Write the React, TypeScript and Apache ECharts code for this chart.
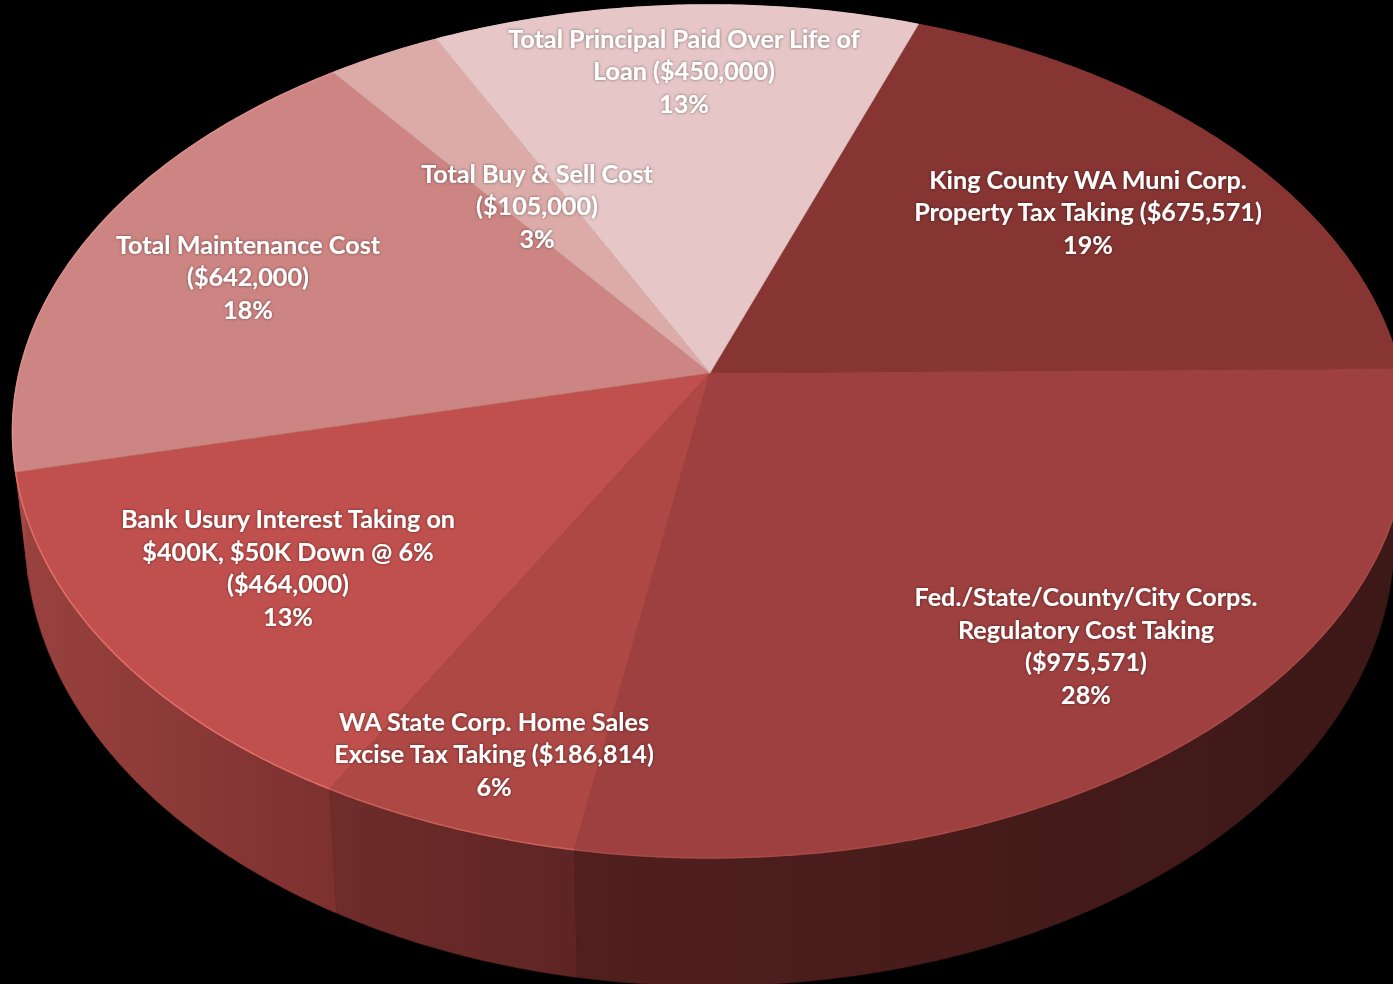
import React, { useEffect, useRef } from "react";
import * as echarts from "echarts";

const categories = [
  "King County WA Muni Corp. Property Tax Taking",
  "Fed./State/County/City Corps. Regulatory Cost Taking",
  "WA State Corp. Home Sales Excise Tax Taking",
  "Bank Usury Interest Taking",
  "Total Maintenance Cost",
  "Total Buy & Sell Cost",
  "Total Principal Paid Over Life of Loan",
];
const values = [675571, 975571, 186814, 464000, 642000, 105000, 450000];
const labelTexts = [
  "King County WA Muni Corp.\nProperty Tax Taking ($675,571)\n19%",
  "Fed./State/County/City Corps.\nRegulatory Cost Taking\n($975,571)\n28%",
  "WA State Corp. Home Sales\nExcise Tax Taking ($186,814)\n6%",
  "Bank Usury Interest Taking on\n$400K, $50K Down @ 6%\n($464,000)\n13%",
  "Total Maintenance Cost\n($642,000)\n18%",
  "Total Buy & Sell Cost\n($105,000)\n3%",
  "Total Principal Paid Over Life of\nLoan ($450,000)\n13%",
];

// styling
const topColors = ["#873533", "#9e403f", "#ad4845", "#c0504d", "#cd8583", "#dcaba8", "#e6c6c6"];
const rimColors = ["#873533", "#a84a48", "#c9605b", "#e2706a", "#dd8f8c", "#dcaba8", "#e6c6c6"];
const wallLeft = ["#3d1917", "#501f1e", "#6f2c2a", "#9a423f", "#a04a47", "#3d1917", "#3d1917"];
const wallRight = ["#3d1917", "#3c1817", "#5e2524", "#7c312f", "#9a423f", "#3d1917", "#3d1917"];
const labelCenters = [
  [1088, 211],
  [1086, 645],
  [494, 753],
  [288, 567],
  [248, 276],
  [537, 205],
  [684, 70],
];

// projection of the tilted disc
const START_DEG = 19.9;
const CX = 710;
const CY = 373;
const AX = 691;
const BY = 418.5;
const K = 0.137;
const ELL_CY = 431;
const ELL_RY = 427;
const ELL_RX = 698;
const LOW_CY = 536;
const LOW_RY = 450;
const LOW_RX = 685;

const total = values.reduce((a, b) => a + b, 0);

function project(deg: number): [number, number] {
  const r = (deg * Math.PI) / 180;
  const u = Math.sin(r);
  const v = -Math.cos(r);
  const w = 1 - K * v;
  return [CX + (AX * u) / w, CY + (BY * v) / w];
}
function projectLow(deg: number): [number, number] {
  const [x, y] = project(deg);
  return [CX + ((x - CX) * LOW_RX) / ELL_RX, LOW_CY + ((y - ELL_CY) * LOW_RY) / ELL_RY];
}
function sliceRange(index: number): [number, number] {
  let before = 0;
  for (let i = 0; i < index; i++) before += values[i];
  const a0 = START_DEG + (before / total) * 360;
  return [a0, a0 + (values[index] / total) * 360];
}
function arc(a0: number, a1: number, fn: (d: number) => [number, number]) {
  const n = Math.max(2, Math.ceil((a1 - a0) / 0.5));
  const pts: [number, number][] = [];
  for (let i = 0; i <= n; i++) pts.push(fn(a0 + ((a1 - a0) * i) / n));
  return pts;
}

const seriesData = values.map((v, i) => ({ name: categories[i], value: [v] }));

export default function App() {
  const ref = useRef<HTMLDivElement>(null);
  useEffect(() => {
    document.body.style.margin = "0";
    document.body.style.background = "#000";
    document.body.style.overflow = "hidden";
    const chart = echarts.init(ref.current!, null, { renderer: "svg" });
    chart.setOption({
      animation: false,
      backgroundColor: "#000000",
      tooltip: { show: false },
      series: [
        {
          type: "custom",
          coordinateSystem: "none",
          silent: true,
          z: 1,
          data: seriesData,
          renderItem: (params: any) => {
            const i = params.dataIndex;
            const [a0, a1] = sliceRange(i);
            const upper = arc(a0, a1, project);
            const lower = arc(a0, a1, projectLow).reverse();
            return {
              type: "polygon",
              shape: { points: [...upper, ...lower] },
              style: {
                fill: new echarts.graphic.LinearGradient(0, 0, 1, 0, [
                  { offset: 0, color: wallLeft[i] },
                  { offset: 1, color: wallRight[i] },
                ]),
                stroke: wallRight[i],
                lineWidth: 0.5,
              },
            };
          },
        },
        {
          type: "custom",
          coordinateSystem: "none",
          silent: true,
          z: 2,
          data: seriesData,
          renderItem: (params: any) => {
            const i = params.dataIndex;
            const [a0, a1] = sliceRange(i);
            const rim = arc(a0, a1, project);
            return {
              type: "group",
              children: [
                {
                  type: "polygon",
                  shape: { points: [[CX, CY], ...rim] },
                  style: { fill: topColors[i], stroke: topColors[i], lineWidth: 0.5 },
                },
                {
                  type: "polyline",
                  shape: { points: rim },
                  style: { fill: "none", stroke: rimColors[i], lineWidth: 1.5 },
                },
              ],
            };
          },
        },
      ],
      graphic: labelTexts.map((t, i) => ({
        type: "text",
        x: labelCenters[i][0],
        y: labelCenters[i][1],
        z: 10,
        style: {
          text: t,
          fill: "#ffffff",
          font: 'bold 25.2px Lato, "Open Sans", sans-serif',
          align: "center",
          verticalAlign: "middle",
          lineHeight: 32.5,
          textShadowColor: "rgba(0,0,0,0.5)",
          textShadowBlur: 3,
        },
      })),
    });
    return () => chart.dispose();
  }, []);
  return <div ref={ref} style={{ position: "absolute", left: 0, top: 0, width: 1393, height: 984 }} />;
}
